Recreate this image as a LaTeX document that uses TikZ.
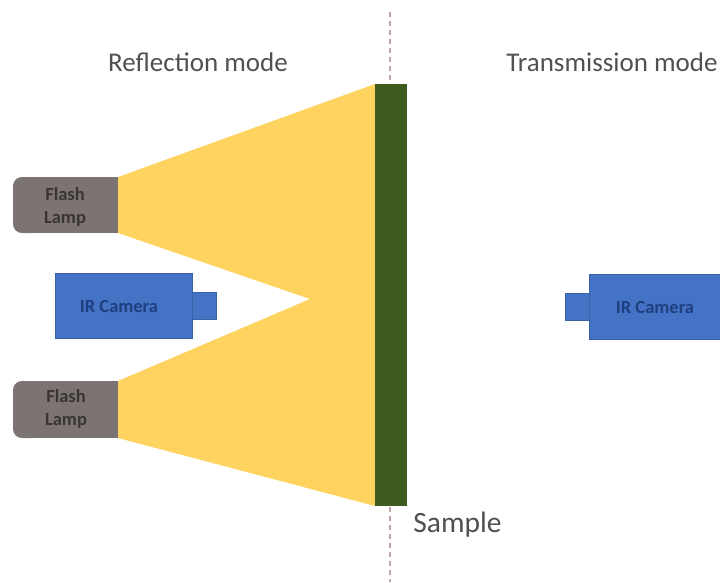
\documentclass[tikz,border=0pt]{standalone}
\usepackage{fontspec}
\setmainfont{Carlito}
\definecolor{beam}{HTML}{FFD35F}
\definecolor{lampc}{HTML}{7C7472}
\definecolor{camc}{HTML}{4472C4}
\definecolor{camtext}{HTML}{1F3F80}
\definecolor{samplec}{HTML}{3F5A1E}
\definecolor{dotc}{HTML}{BFA8A4}
\definecolor{titlec}{HTML}{505050}
\definecolor{lamptext}{HTML}{3A3535}
\tikzset{
  x=1pt,y=-1pt,
  campart/.style={fill=camc,draw=camc!85!black,line width=0.6pt},
  smalltext/.style={font=\fontsize{18.5}{23}\selectfont\bfseries,align=center,inner sep=0pt},
  title/.style={font=\fontsize{27}{32}\selectfont,text=titlec,inner sep=0pt,anchor=base},
}
\begin{document}
\begin{tikzpicture}
\useasboundingbox (0,0) rectangle (720,582);
% sample axis
\coordinate (axtop) at (390,12);
\coordinate (axbot) at (390,582);
\draw[dotc,line width=1.6pt,dash pattern=on 5pt off 4pt] (axtop) -- (axbot);
% beam
\fill[beam] (118,177) -- (375,84) -- (375,506) -- (118,438) -- (118,381) -- (310,299) -- (118,233) -- cycle;
% sample
\node[fill=samplec,inner sep=0pt,minimum width=32pt,minimum height=422pt] (sample) at (391,295) {};
% lamps
\fill[lampc,rounded corners=9pt] (13,177) rectangle (40,233);
\fill[lampc] (30,177) rectangle (118,233);
\fill[lampc,rounded corners=9pt] (13,381) rectangle (40,438);
\fill[lampc] (30,381) rectangle (118,438);
\node[smalltext,text=lamptext] (lamp1) at (65,207) {Flash\\Lamp};
\node[smalltext,text=lamptext] (lamp2) at (66,409) {Flash\\Lamp};
% left camera
\node[campart,inner sep=0pt,minimum width=137pt,minimum height=65pt] (camL) at (123.5,305.5) {};
\node[campart,inner sep=0pt,minimum width=24pt,minimum height=27pt] (lensL) at (204,305.5) {};
\node[smalltext,text=camtext] (camLt) at (119,306) {IR Camera};
% right camera
\node[campart,inner sep=0pt,minimum width=137pt,minimum height=65pt] (camR) at (657.5,306.5) {};
\node[campart,inner sep=0pt,minimum width=24pt,minimum height=27pt] (lensR) at (577,306.5) {};
\node[smalltext,text=camtext] (camRt) at (655,307) {IR Camera};
% titles
\node[title] (refl) at (198,71) {Reflection mode};
\node[title] (trans) at (612,71) {Transmission mode};
\node[title,font=\fontsize{29.5}{34}\selectfont] (samplet) at (457.5,532) {Sample};
\end{tikzpicture}
\end{document}
